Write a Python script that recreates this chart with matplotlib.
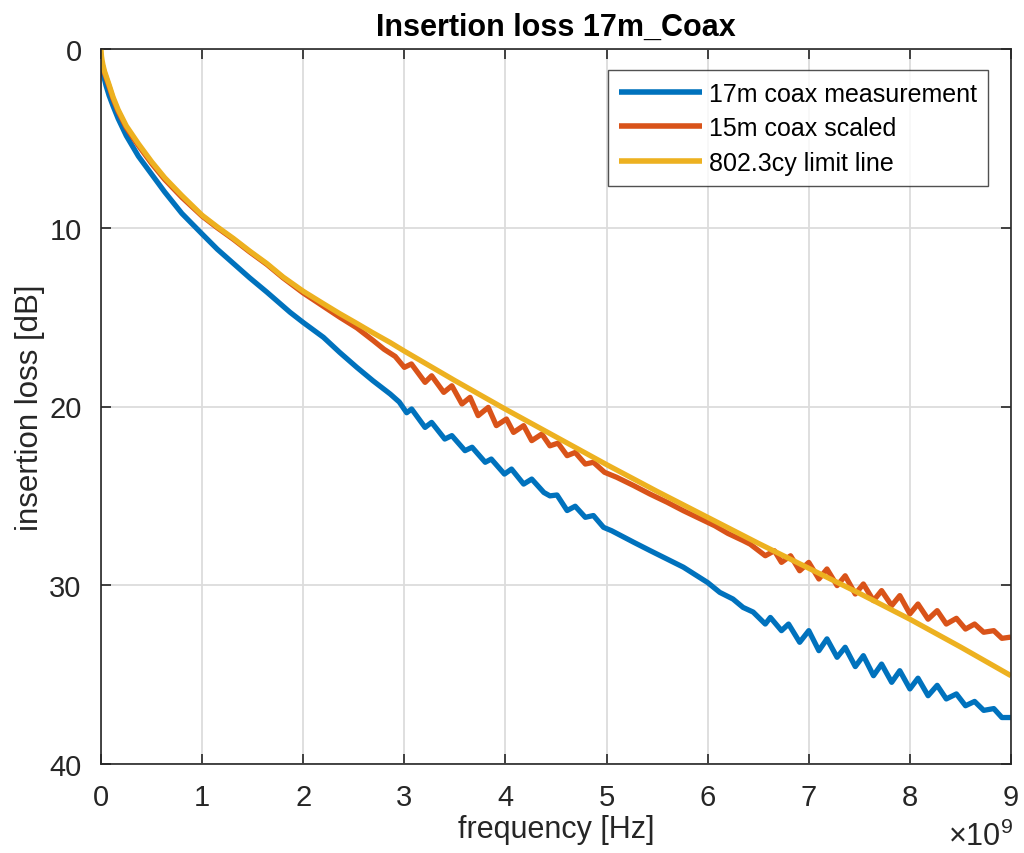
import matplotlib
matplotlib.use("Agg")
import matplotlib.pyplot as plt
from matplotlib.ticker import FuncFormatter
import numpy as np

plt.rcParams['font.family'] = ['Liberation Sans', 'DejaVu Sans']
plt.rcParams['mathtext.fontset'] = 'custom'
plt.rcParams['mathtext.rm'] = 'Liberation Sans'
plt.rcParams['mathtext.it'] = 'Liberation Sans'

# ---- data (frequency in GHz, insertion loss in dB) ----
meas_f = [0.01, 0.02, 0.035, 0.05, 0.08, 0.12, 0.17, 0.25, 0.37, 0.5, 0.63, 0.8, 1.0,
          1.15, 1.31, 1.47, 1.64, 1.87, 2.0, 2.2, 2.36,
          2.53, 2.69, 2.86, 2.95, 3.023, 3.072, 3.205, 3.27, 3.40, 3.47, 3.60, 3.67,
          3.80, 3.86, 3.99, 4.06, 4.18, 4.26, 4.38, 4.44, 4.51, 4.61, 4.69, 4.79, 4.87,
          4.97, 5.05, 5.27, 5.43, 5.76, 6.0, 6.12, 6.25, 6.35, 6.45, 6.57, 6.62, 6.73,
          6.80, 6.91, 7.0, 7.10, 7.18, 7.28, 7.36, 7.46, 7.54, 7.64, 7.72, 7.82, 7.90,
          8.00, 8.08, 8.18, 8.27, 8.36, 8.46, 8.55, 8.64, 8.73, 8.83, 8.91, 9.0]
meas_il = [1.0, 1.3, 1.7, 2.05, 2.6, 3.2, 3.9, 4.85, 6.0, 7.0, 8.0, 9.2, 10.35,
           11.2, 12.0, 12.8, 13.6, 14.73, 15.3, 16.13, 16.97,
           17.81, 18.56, 19.3, 19.75, 20.35, 20.14, 21.17, 20.89, 21.82, 21.63, 22.47, 22.28,
           23.12, 22.94, 23.78, 23.5, 24.34, 24.06, 24.81, 25.0, 24.95, 25.82, 25.58, 26.2, 26.1,
           26.76, 26.95, 27.6, 28.06, 28.99, 29.85, 30.4, 30.77, 31.24, 31.5, 32.17, 31.8, 32.54,
           32.17, 33.19, 32.54, 33.66, 33.0, 34.03, 33.47, 34.55, 33.94, 35.06, 34.41, 35.43, 34.78,
           35.8, 35.2, 36.18, 35.6, 36.36, 36.08, 36.74, 36.5, 37.0, 36.9, 37.4, 37.4]

scaled_f = [0.01, 0.02, 0.035, 0.05, 0.08, 0.12, 0.17, 0.25, 0.37, 0.5, 0.63, 0.8, 1.0,
            1.15, 1.31, 1.47, 1.64, 1.8, 2.0, 2.2, 2.36,
            2.53, 2.69, 2.80, 2.91, 3.0, 3.07, 3.205, 3.27, 3.39, 3.47, 3.57, 3.65, 3.73,
            3.83, 3.91, 4.01, 4.08, 4.18, 4.26, 4.36, 4.44, 4.52, 4.61, 4.69, 4.79, 4.87,
            4.98, 5.1, 5.27, 5.43, 5.6, 5.76, 6.0, 6.07, 6.2, 6.35, 6.42, 6.57, 6.66, 6.73,
            6.82, 6.91, 7.0, 7.10, 7.18, 7.28, 7.36, 7.46, 7.54, 7.64, 7.72, 7.82, 7.90,
            8.0, 8.08, 8.18, 8.27, 8.36, 8.46, 8.55, 8.64, 8.73, 8.83, 8.91, 9.0]
scaled_il = [0.8, 1.05, 1.35, 1.6, 2.1, 2.8, 3.5, 4.4, 5.4, 6.4, 7.3, 8.3, 9.35,
             10.0, 10.65, 11.35, 12.05, 12.8, 13.65, 14.4, 15.0,
             15.6, 16.3, 16.8, 17.2, 17.81, 17.62, 18.65, 18.28, 19.21, 18.84, 19.86, 19.49, 20.51,
             20.05, 21.07, 20.70, 21.45, 21.07, 21.91, 21.54, 22.2, 22.05, 22.75, 22.57, 23.22, 23.12,
             23.68, 23.96, 24.43, 24.9, 25.36, 25.83, 26.48, 26.67, 27.1, 27.5, 27.7, 28.35, 28.07, 28.72,
             28.35, 29.19, 28.72, 29.65, 29.09, 30.02, 29.47, 30.49, 29.93, 30.86, 30.3, 31.14, 30.58,
             31.6, 31.05, 31.9, 31.42, 32.17, 31.85, 32.45, 32.17, 32.63, 32.54, 32.97, 32.9]

limit_f = [0.0, 0.005, 0.01, 0.02, 0.035, 0.05, 0.08, 0.12, 0.17, 0.25, 0.37, 0.5, 0.63,
           0.8, 1.0, 1.15, 1.31, 1.47, 1.64, 1.8, 2.0, 2.2, 2.36,
           2.53, 2.69, 2.86, 3.0, 3.5, 4.0, 4.5, 5.0, 5.5, 6.0, 6.5, 7.0, 7.5, 8.0, 8.5, 9.0]
limit_il = [0.0, 0.4, 0.6, 0.9, 1.25, 1.5, 2.0, 2.7, 3.4, 4.3, 5.3, 6.3, 7.2,
            8.2, 9.3, 9.95, 10.6, 11.3, 12.0, 12.75, 13.55, 14.25, 14.8,
            15.35, 15.88, 16.42, 16.9, 18.55, 20.15, 21.7, 23.25, 24.75, 26.2, 27.65, 29.05,
            30.45, 31.9, 33.45, 35.06]

labels = ['17m coax measurement', '15m coax scaled', '802.3cy limit line']
colors = ['#0072BD', '#D95319', '#EDB120']
x_ticks = [0, 1, 2, 3, 4, 5, 6, 7, 8, 9]
y_ticks = [0, 10, 20, 30, 40]
x_exponent = 9

fig = plt.figure(figsize=(10.24, 8.54), dpi=100)
ax = fig.add_axes([101/1024, 1-765/854, 910/1024, 715/854])

series = [(meas_f, meas_il), (scaled_f, scaled_il), (limit_f, limit_il)]
for (f, il), lab, c in zip(series, labels, colors):
    ax.plot(np.array(f) * 1e9, il, color=c, lw=3.8, label=lab,
            solid_joinstyle='round', solid_capstyle='butt')

scale = 10.0 ** x_exponent
ax.set_xlim(0, 9 * scale)
ax.set_ylim(40, 0)
ax.set_xticks([t * scale for t in x_ticks])
ax.set_yticks(y_ticks)
ax.xaxis.set_major_formatter(FuncFormatter(lambda v, p: '%g' % (v / scale)))

ax.grid(True, color='#dcdcdc', lw=1.3)
ax.set_axisbelow(True)
for s in ax.spines.values():
    s.set_color('#262626')
    s.set_linewidth(1.2)
ax.tick_params(direction='in', length=7, width=1.2, colors='#262626',
               labelsize=21, top=True, right=True)
ax.tick_params(axis='y', pad=14)
ax.tick_params(axis='x', pad=14)

fig.text(1013/1024, 1 - 846/854, r'$\times$10$^{%d}$' % x_exponent, fontsize=22,
         color='#262626', ha='right', va='baseline')

ax.set_xlabel('frequency [Hz]', fontsize=22, color='#262626', labelpad=2)
ax.set_ylabel('insertion loss [dB]', fontsize=22.5, color='#262626', labelpad=3)
ax.set_title('Insertion loss 17m_Coax', fontsize=22, fontweight='bold', pad=10)

leg = ax.legend(loc='upper right', bbox_to_anchor=(0.975, 0.97), fontsize=18,
                handlelength=3.3, frameon=True, fancybox=False, borderaxespad=0,
                labelspacing=0.42, handletextpad=0.3, borderpad=0.45)
leg.get_frame().set_edgecolor('#262626')
leg.get_frame().set_linewidth(1.0)
for h in leg.get_lines():
    h.set_linewidth(4)

fig.savefig('out.png', dpi=100)
